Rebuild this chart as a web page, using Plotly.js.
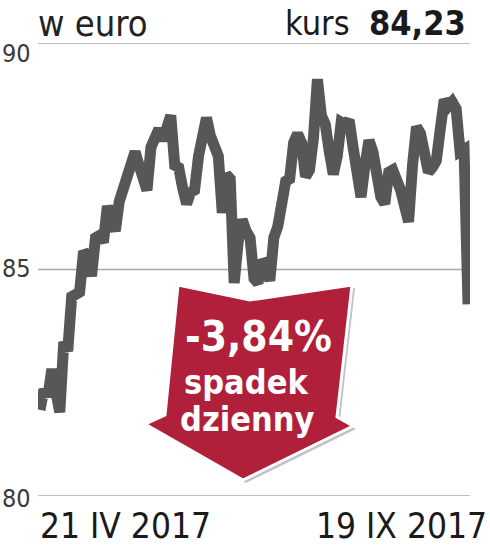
<!DOCTYPE html>
<html>
<head>
<meta charset="utf-8">
<script src="https://cdn.plot.ly/plotly-3.0.1.min.js"></script>
<style>html,body{margin:0;padding:0;background:#fff;}#chart{width:490px;height:547px;}</style>
</head>
<body>
<div id="chart"></div>
<script>
// ---- data ----
var sessions = [0,1,2,3,4,5,6,7,8,9,10,11,12,13,14,15,16,17,18,19,20,21,22,23,24,25,26,27,28,29,
  30,31,32,33,34,35,36,37,38,39,40,41,42,43,44,45,46,47,48,49,50,51,52,53,54,55,56,57,58,59,
  60,61,62,63,64,65,66,67,68,69,70,71,72,73,74,75,76,77,78,79,80,81,82,83,84,85,86,87,88,89,
  90,91,92,93,94,95,96,97,98,99,100,101,102,103,104,105,106,107,108];
var prices = [81.90,82.35,82.20,82.80,82.30,81.85,83.40,83.20,84.40,84.45,
  84.50,85.40,85.30,84.85,85.70,85.75,85.60,86.40,86.10,85.85,
  86.50,86.75,87.00,87.20,87.60,87.30,86.90,86.75,87.70,87.90,
  88.10,87.85,88.10,88.40,87.30,87.25,86.80,86.45,86.70,86.75,
  87.50,87.90,88.35,87.95,87.70,87.50,86.25,87.10,87.00,84.70,
  85.60,86.10,85.85,85.70,84.80,84.70,85.20,85.10,84.75,85.70,
  85.95,86.70,86.95,87.00,87.80,88.00,87.80,87.05,87.20,87.90,
  89.20,88.40,88.20,87.60,87.10,87.50,88.25,88.20,88.30,87.70,
  87.15,86.60,87.30,87.85,87.60,87.00,86.60,86.45,87.15,87.20,
  86.85,86.75,86.40,86.05,87.30,88.15,88.00,87.60,87.15,87.25,
  87.40,88.10,88.75,88.60,88.70,88.55,87.60,87.65,84.23];
var yTicks = [80, 85, 90];
var yTickLabels = ['80', '85', '90'];
var startLabel = '21 IV 2017';
var endLabel = '19 IX 2017';
var unitLabel = 'w euro';
var lastPriceLabel = '84,23';
var changeLabel = '-3,84%';
var changeText = ['spadek', 'dzienny'];

// ---- layout helpers (pixel -> paper) ----
var W = 490, H = 547, L = 38, R = 20, T = 43, B = 51;
var PW = W - L - R, PH = H - T - B;
function px(x) { return (x - L) / PW; }
function py(y) { return (H - B - y) / PH; }

var condensed = '"DejaVu Sans Condensed", "DejaVu Sans", sans-serif';

var shapes = [];
yTicks.forEach(function (v) {
  shapes.push({type: 'line', xref: 'paper', yref: 'y', x0: 0, x1: 1, y0: v, y1: v,
    line: {color: '#a8a8a8', width: 1.5}, layer: 'below'});
});

var arrowPts = [[178,285],[250,300],[352,285],[337,417],[353,426],[243,480],[145,424],[165,415]];
function pathFrom(pts, dx, dy) {
  return pts.map(function (p, i) {
    return (i === 0 ? 'M' : 'L') + px(p[0] + dx).toFixed(4) + ',' + py(p[1] + dy).toFixed(4);
  }).join(' ') + ' Z';
}
shapes.push({type: 'path', xref: 'paper', yref: 'paper', path: pathFrom(arrowPts, 3, 3),
  fillcolor: 'rgba(120,120,120,0.45)', line: {width: 0}, layer: 'above'});
shapes.push({type: 'path', xref: 'paper', yref: 'paper', path: pathFrom(arrowPts, 0, 0),
  fillcolor: '#b1203a', line: {color: '#ffffff', width: 3}, layer: 'above'});

var annotations = [];
// y tick labels
var tickCenters = {80: 498, 85: 268, 90: 53};
yTicks.forEach(function (v, i) {
  annotations.push({xref: 'paper', yref: 'paper', x: px(0), y: py(tickCenters[v]),
    xanchor: 'left', yanchor: 'middle', showarrow: false, text: yTickLabels[i],
    font: {family: condensed, size: 25, color: '#3a3a3a', weight: 300}});
});
annotations.push({xref: 'paper', yref: 'paper', x: px(36), y: py(23), xanchor: 'left', yanchor: 'middle',
  showarrow: false, text: unitLabel, font: {family: condensed, size: 36, color: '#222', weight: 300}});
annotations.push({xref: 'paper', yref: 'paper', x: px(468), y: py(23), xanchor: 'right', yanchor: 'middle',
  showarrow: false, text: 'kurs  <b>' + lastPriceLabel + '</b>', font: {family: condensed, size: 34, color: '#1a1a1a'}});
annotations.push({xref: 'paper', yref: 'paper', x: px(38), y: py(526), xanchor: 'left', yanchor: 'middle',
  showarrow: false, text: startLabel, font: {family: condensed, size: 35, color: '#1a1a1a'}});
annotations.push({xref: 'paper', yref: 'paper', x: px(489), y: py(526), xanchor: 'right', yanchor: 'middle',
  showarrow: false, text: endLabel, font: {family: condensed, size: 35, color: '#1a1a1a'}});
annotations.push({xref: 'paper', yref: 'paper', x: px(258), y: py(336), xanchor: 'center', yanchor: 'middle',
  showarrow: false, text: '<b>' + changeLabel + '</b>', font: {family: condensed, size: 42, color: '#ffffff'}});
annotations.push({xref: 'paper', yref: 'paper', x: px(246), y: py(382), xanchor: 'center', yanchor: 'middle',
  showarrow: false, text: '<b>' + changeText[0] + '</b>', font: {family: condensed, size: 34, color: '#ffffff'}});
annotations.push({xref: 'paper', yref: 'paper', x: px(247), y: py(419), xanchor: 'center', yanchor: 'middle',
  showarrow: false, text: '<b>' + changeText[1] + '</b>', font: {family: condensed, size: 34, color: '#ffffff'}});

var trace = {x: sessions, y: prices, type: 'scatter', mode: 'lines', cliponaxis: false,
  line: {color: '#575757', width: 11, shape: 'linear'}, hoverinfo: 'skip'};

var layout = {
  width: W, height: H, margin: {l: L, r: R, t: T, b: B, pad: 0},
  paper_bgcolor: '#ffffff', plot_bgcolor: '#ffffff', showlegend: false,
  xaxis: {range: [-0.5, sessions.length - 0.5], showgrid: false, zeroline: false,
    showticklabels: false, ticks: '', showline: false, fixedrange: true},
  yaxis: {range: [80, 90], showgrid: false, zeroline: false, showticklabels: false,
    ticks: '', showline: false, fixedrange: true},
  shapes: shapes, annotations: annotations
};
Plotly.newPlot('chart', [trace], layout, {displayModeBar: false, staticPlot: true});
</script>
</body>
</html>
